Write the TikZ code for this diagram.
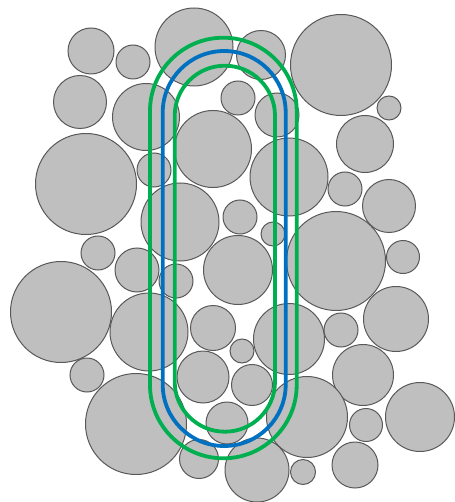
\documentclass[tikz,border=0pt]{standalone}
\definecolor{ballfill}{HTML}{BFBFBF}
\definecolor{balledge}{HTML}{595959}
\definecolor{trackgreen}{HTML}{00B050}
\definecolor{trackblue}{HTML}{0070C0}
\tikzset{
  ball/.style={fill=ballfill,draw=balledge,line width=1pt},
  track/.style={line width=3.8pt}
}
\begin{document}
\begin{tikzpicture}[x=1pt,y=-1pt]
\useasboundingbox (0,0) rectangle (454,502);
% packed grains
\foreach \cx/\cy/\r in {91/51/23, 133/62/17, 194/47/39, 261/55/24.5, 341/65/50.5,
  80/102/26.5, 146/117/33.5, 238/98/17, 277/115/22, 389/108/12,
  213/149/38.5, 365/144/28.5, 86/184/50.5, 154/170/17, 289/177/39,
  345/189/17, 389/206/26.5, 180/222/39, 240/217/17, 273/234/12,
  336/261/49.5, 403/257/16.5, 98/253/17, 137/270/22, 176/281/17,
  238/270/34.5, 61/312/50.5, 149/332/39, 213/328/22.5, 289/339/35.5,
  341/330/17, 396/319/32.5, 242/351/12, 87/375/17, 203/377/26,
  252/385/20.5, 363/375/30.5, 136/424/50.5, 227/423/21, 307/417/40.5,
  366/425/16.5, 420/417/34.5, 199/459/19.5, 257/470/32, 303/472/12.5,
  355/465/23}
  \draw[ball] (\cx,\cy) circle[radius=\r];
% stadium outlines
\draw[track,trackgreen,rounded corners=73.3pt] (150,37.7) rectangle (296.7,458.3);
\draw[track,trackblue,rounded corners=61.5pt] (162.7,51) rectangle (285.7,446);
\draw[track,trackgreen,rounded corners=50.1pt] (174.7,65.7) rectangle (275,431.7);
\end{tikzpicture}
\end{document}
